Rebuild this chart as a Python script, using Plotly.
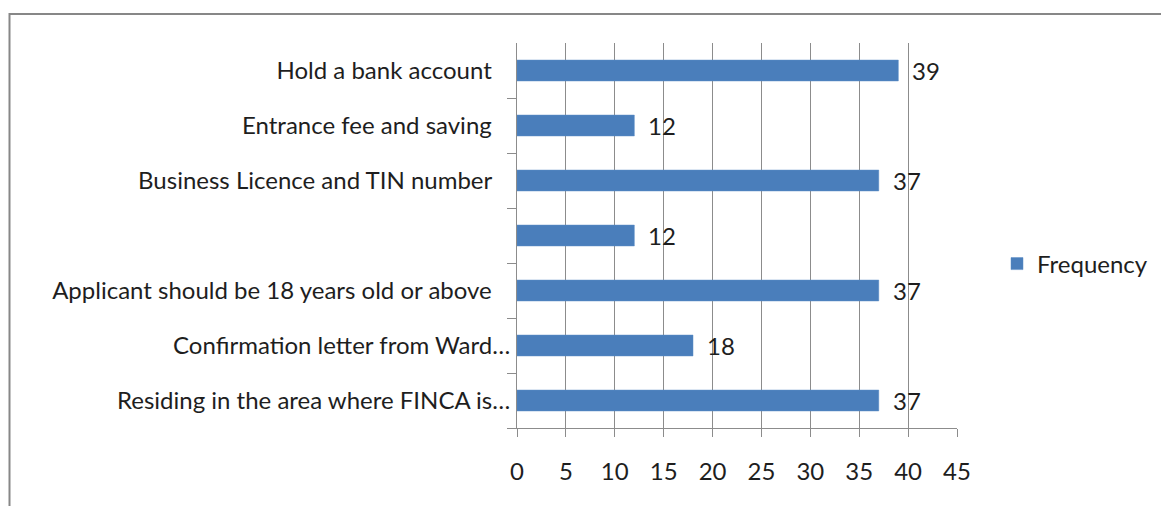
import plotly.graph_objects as go

# Requirements listed top to bottom as shown on the chart
requirements = [
    "Hold a bank account",
    "Entrance fee and saving",
    "Business Licence and TIN number",
    "",
    "Applicant should be 18 years old or above",
    "Confirmation letter from Ward…",
    "Residing in the area where FINCA is…",
]
frequency = [39, 12, 37, 12, 37, 18, 37]
x_ticks = [0, 5, 10, 15, 20, 25, 30, 35, 40, 45]

BAR_BLUE = "#4A7EBB"
GRID = "#8C8C8C"
TEXT = "#1E1E1E"
FONT = "Lato, 'Open Sans', sans-serif"
FS = 24

W, H = 1161, 506
L, R, T, B = 517, 957, 43, 428

# category keys must be unique; labels are drawn through ticktext
keys = [f"c{i}" for i in range(len(requirements))]
NBSP = "\u00a0"
labels = [s if s.endswith("…") else s + NBSP * 3 for s in requirements]

fig = go.Figure()
fig.add_trace(go.Bar(
    x=frequency,
    y=keys,
    orientation="h",
    name="Frequency",
    marker=dict(color=BAR_BLUE, line=dict(color="#5B8CC6", width=0.5)),
    width=0.38,
    hoverinfo="x",
))

for k, v in zip(keys, frequency):
    fig.add_annotation(
        x=v, y=k, xref="x", yref="y",
        text=str(v), showarrow=False,
        xanchor="left", yanchor="middle", xshift=12,
        font=dict(family=FONT, size=FS, color=TEXT),
    )

# outer chart frame (runs off the right and bottom edges)
pw, ph = R - L, B - T
fig.add_shape(
    type="rect", xref="paper", yref="paper",
    x0=(9.5 - L) / pw, x1=(W + 20 - L) / pw,
    y0=(B - (H + 20)) / ph, y1=(B - 14) / ph,
    line=dict(color="#878787", width=2),
    fillcolor="rgba(0,0,0,0)", layer="below",
)

fig.update_layout(
    width=W, height=H,
    margin=dict(l=L, r=W - R, t=T, b=H - B, pad=0, autoexpand=False),
    paper_bgcolor="white", plot_bgcolor="white",
    font=dict(family=FONT, size=FS, color=TEXT),
    showlegend=True,
    legend=dict(
        xref="container", yref="container",
        x=997 / W, y=(H - 264) / H,
        xanchor="left", yanchor="middle",
        font=dict(family=FONT, size=FS, color=TEXT),
        bgcolor="rgba(0,0,0,0)",
    ),
    bargap=0.62,
)

fig.update_xaxes(
    range=[0, 45],
    tickvals=x_ticks,
    ticktext=[str(t) for t in x_ticks],
    showgrid=True, gridcolor=GRID, gridwidth=1,
    showline=True, linecolor=GRID, linewidth=1,
    ticks="outside", ticklen=8, tickcolor=GRID,
    ticklabelstandoff=14,
    zeroline=False,
    automargin=False,
    fixedrange=True,
)

fig.update_yaxes(
    type="category",
    categoryorder="array",
    categoryarray=keys[::-1],
    tickvals=keys,
    ticktext=labels,
    tickson="boundaries",
    ticks="outside", ticklen=9, tickcolor=GRID,
    showline=True, linecolor=GRID, linewidth=1,
    showgrid=False,
    ticklabelstandoff=1,
    automargin=False,
    fixedrange=True,
)

fig.write_html("out.html")
